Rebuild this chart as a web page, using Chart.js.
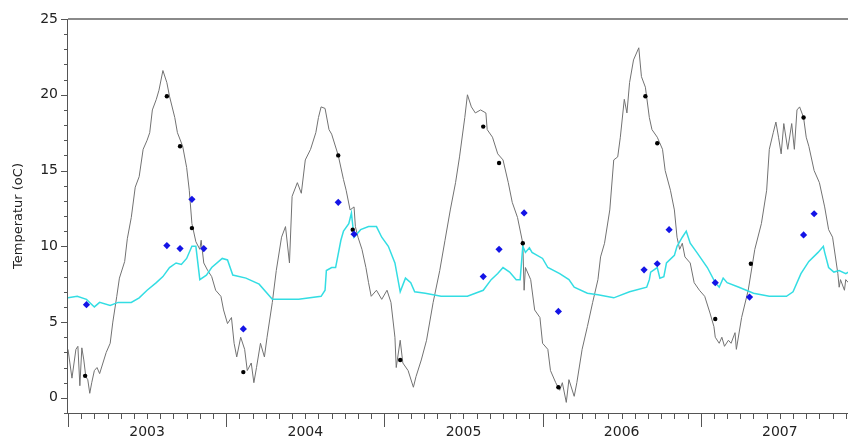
<!DOCTYPE html>
<html>
<head>
<meta charset="utf-8">
<script src="https://cdn.jsdelivr.net/npm/chart.js@4/dist/chart.umd.min.js"></script>
<style>
  html, body { margin: 0; padding: 0; background: #fff; }
  .chart-container { width: 852px; height: 439px; }
</style>
</head>
<body>
<div class="chart-container"><canvas id="chart"></canvas></div>
<script>
// x values are months since Jan 2003
const yearLabels = ["2003", "2004", "2005", "2006", "2007"];

const grayT = [0, 0.3, 0.6, 0.75, 0.9, 1.05, 1.2, 1.35, 1.5, 1.65, 1.8, 2.0, 2.2, 2.4, 2.9, 3.2, 3.4, 3.7, 3.9, 4.3,
  4.5, 4.8, 5.1, 5.4, 5.7, 6.0, 6.2, 6.4, 6.7, 6.9, 7.2, 7.5, 7.7, 8.1, 8.3, 8.7, 9.0, 9.2, 9.4, 9.7,
  10.0, 10.1, 10.3, 10.6, 10.9, 11.2, 11.6, 11.8, 12.1, 12.4, 12.6, 12.8, 13.1, 13.4, 13.6, 13.9, 14.1, 14.3, 14.6, 14.9,
  15.1, 15.5, 15.8, 16.2, 16.5, 16.8, 17.0, 17.4, 17.7, 18.0, 18.4, 18.8, 19.0, 19.2, 19.5, 19.8, 20.0, 20.5, 20.9, 21.1,
  21.4, 21.7, 21.8, 22.0, 22.3, 22.6, 22.8, 23.0, 23.4, 23.8, 24.2, 24.5, 24.8, 24.9, 25.2, 25.4, 25.8, 26.2, 26.4, 26.8,
  27.2, 27.7, 28.2, 28.6, 29.0, 29.4, 29.7, 30.1, 30.3, 30.6, 30.9, 31.3, 31.7, 31.8, 32.2, 32.6, 33.0, 33.4, 33.7, 34.1,
  34.5, 34.6, 34.7, 35.1, 35.4, 35.8, 36.0, 36.4, 36.6, 37.0, 37.3, 37.5, 37.8, 38.0, 38.4, 38.6, 39.0, 39.4, 39.8, 40.2,
  40.4, 40.7, 41.1, 41.4, 41.7, 41.9, 42.2, 42.4, 42.6, 42.9, 43.3, 43.5, 43.8, 44.1, 44.3, 44.7, 45.1, 45.3, 45.7, 46.0,
  46.2, 46.4, 46.6, 46.8, 47.2, 47.5, 47.9, 48.3, 48.7, 49.0, 49.1, 49.4, 49.6, 49.8, 50.1, 50.3, 50.6, 50.7, 51.1, 51.6,
  52.1, 52.6, 53.0, 53.2, 53.5, 53.7, 53.9, 54.1, 54.3, 54.6, 54.9, 55.1, 55.3, 55.5, 55.8, 56.0, 56.2, 56.6, 57.0, 57.4,
  57.7, 58.0, 58.4, 58.5, 58.6, 58.9, 59.0, 59.2];
const grayV = [3.2, 1.3, 3.2, 3.4, 0.8, 3.3, 2.5, 1.4, 1.2, 0.3, 1.0, 1.8, 2.0, 1.6, 3.0, 3.6, 5.0, 6.7, 7.9, 9.0,
  10.5, 11.9, 13.9, 14.6, 16.4, 17.0, 17.5, 19.0, 19.7, 20.3, 21.6, 20.8, 19.9, 18.5, 17.5, 16.6, 15.2, 13.7, 11.5, 10.3,
  9.8, 10.4, 8.9, 8.4, 8.0, 7.1, 6.7, 5.8, 4.9, 5.3, 3.6, 2.7, 4.0, 3.2, 1.8, 2.3, 1.0, 2.0, 3.6, 2.7,
  4.0, 6.3, 8.4, 10.6, 11.3, 8.9, 13.3, 14.2, 13.5, 15.7, 16.4, 17.5, 18.5, 19.2, 19.1, 17.7, 17.4, 16.0, 14.4, 13.7,
  12.4, 12.6, 11.3, 10.6, 9.8, 8.6, 7.6, 6.7, 7.1, 6.5, 7.1, 6.3, 4.0, 2.0, 3.8, 2.3, 1.8, 0.7, 1.4, 2.5,
  3.8, 6.3, 8.4, 10.4, 12.4, 14.2, 15.9, 18.5, 20.0, 19.2, 18.8, 19.0, 18.8, 17.7, 17.2, 16.1, 15.7, 14.2, 12.9, 11.9,
  10.2, 7.1, 8.6, 7.8, 5.8, 5.3, 3.6, 3.2, 1.8, 1.0, 0.5, 1.0, -0.3, 1.2, 0.1, 1.0, 3.2, 4.7, 6.3, 7.8,
  9.3, 10.2, 12.4, 15.7, 15.9, 17.2, 19.7, 18.8, 20.8, 22.3, 23.1, 21.2, 20.5, 18.5, 17.7, 17.2, 16.4, 15.0, 13.7, 12.4,
  10.6, 9.8, 10.2, 9.3, 8.9, 7.6, 7.1, 6.7, 5.6, 4.7, 4.0, 3.6, 4.0, 3.4, 3.8, 3.6, 4.3, 3.2, 5.3, 7.1,
  9.8, 11.5, 13.7, 16.4, 17.5, 18.2, 17.2, 16.1, 18.1, 16.4, 18.1, 16.4, 19.0, 19.2, 18.5, 17.2, 16.6, 15.0, 14.2, 12.6,
  11.1, 10.6, 8.2, 7.3, 7.8, 7.1, 7.8, 7.6];

const cyanT = [0, 0.7, 1.4, 2.0, 2.4, 3.2, 3.8, 4.8, 5.4, 6.0, 6.7, 7.2, 7.7, 8.2, 8.6, 9.0, 9.4, 9.7, 10.0, 10.5,
  10.9, 11.7, 12.1, 12.5, 13.5, 14.5, 15.5, 17.5, 19.2, 19.5, 19.6, 20.0, 20.3, 20.7, 20.9, 21.3, 21.5, 21.7, 22.2, 22.8,
  23.4, 23.8, 24.3, 24.8, 25.2, 25.6, 26.0, 26.3, 27.1, 28.3, 30.3, 30.9, 31.5, 32.1, 32.6, 33.0, 33.5, 34.0, 34.3, 34.5,
  34.7, 35.0, 35.2, 36.0, 36.4, 37.3, 38.0, 38.4, 39.4, 40.2, 41.4, 42.6, 43.9, 44.1, 44.2, 44.7, 44.9, 45.2, 45.4, 46.0,
  46.2, 46.6, 46.9, 47.2, 47.7, 48.5, 49.1, 49.4, 49.7, 50.0, 50.9, 52.0, 53.2, 54.5, 55.0, 55.6, 56.2, 56.9, 57.3, 57.4,
  57.7, 58.1, 58.5, 59.0, 59.2];
const cyanV = [6.6, 6.7, 6.5, 6.0, 6.3, 6.1, 6.3, 6.3, 6.6, 7.1, 7.6, 8.0, 8.6, 8.9, 8.8, 9.2, 10.0, 10.0, 7.8, 8.1,
  8.6, 9.2, 9.1, 8.1, 7.9, 7.5, 6.5, 6.5, 6.7, 7.1, 8.4, 8.6, 8.6, 10.4, 11.0, 11.5, 12.2, 10.6, 11.1, 11.3,
  11.3, 10.6, 10.0, 8.9, 7.0, 7.9, 7.6, 7.0, 6.9, 6.7, 6.7, 6.9, 7.1, 7.8, 8.2, 8.6, 8.3, 7.8, 7.8, 10.0,
  9.6, 9.9, 9.6, 9.2, 8.6, 8.2, 7.8, 7.3, 6.9, 6.8, 6.6, 7.0, 7.3, 7.8, 8.3, 8.6, 7.9, 8.0, 8.9, 9.4,
  10.0, 10.6, 11.0, 10.2, 9.6, 8.6, 7.6, 7.3, 7.9, 7.6, 7.3, 6.9, 6.7, 6.7, 7.0, 8.2, 9.0, 9.6, 10.0, 9.6,
  8.6, 8.3, 8.4, 8.2, 8.3];

const dotT = [1.3, 7.5, 8.5, 9.4, 13.3, 20.5, 21.6, 25.2, 31.5, 32.7, 34.5, 37.2, 43.8, 44.7, 49.1, 51.8, 55.8];
const dotV = [1.45, 19.9, 16.6, 11.2, 1.7, 16.0, 11.1, 2.5, 17.9, 15.5, 10.2, 0.7, 19.9, 16.8, 5.2, 8.85, 18.5];

const diamondT = [1.4, 7.5, 8.5, 9.4, 10.3, 13.3, 20.5, 21.7, 31.5, 32.7, 34.6, 37.2, 43.7, 44.7, 45.6, 49.1, 51.7, 55.8, 56.6];
const diamondV = [6.15, 10.05, 9.85, 13.1, 9.85, 4.55, 12.9, 10.8, 8.0, 9.8, 12.2, 5.7, 8.45, 8.85, 11.1, 7.6, 6.65, 10.75, 12.15];

const toPoints = (xs, ys) => xs.map((x, i) => ({ x: x, y: ys[i] }));

// Axes, ticks and labels
const axesPlugin = {
  id: "axes",
  afterDraw(chart) {
    const { ctx, chartArea: a, scales } = chart;
    const x = scales.x;
    const y = scales.y;
    const seg = (x1, y1, x2, y2) => {
      ctx.beginPath();
      ctx.moveTo(x1, y1);
      ctx.lineTo(x2, y2);
      ctx.stroke();
    };
    ctx.save();
    ctx.strokeStyle = "#8a8a8a";
    ctx.lineWidth = 2;
    seg(a.left, a.top, a.right, a.top);

    ctx.strokeStyle = "#555";
    ctx.lineWidth = 1;
    seg(a.left - 0.5, a.top, a.left - 0.5, a.bottom + 1);
    seg(a.left - 1, a.bottom + 0.5, a.right, a.bottom + 0.5);

    // y ticks
    for (let v = -1; v <= 25; v++) {
      const py = Math.round(y.getPixelForValue(v)) + 0.5;
      const len = v % 5 === 0 ? 6 : 3;
      seg(a.left - 1 - len, py, a.left - 1, py);
    }
    ctx.fillStyle = "#222";
    ctx.font = "14px 'DejaVu Sans', sans-serif";
    ctx.textAlign = "right";
    ctx.textBaseline = "middle";
    for (let v = 0; v <= 25; v += 5) {
      ctx.fillText(String(v), a.left - 10, y.getPixelForValue(v));
    }

    // x ticks, one per month
    for (let m = 0; m <= 60; m++) {
      const px = Math.round(x.getPixelForValue(m)) + 0.5;
      if (px > a.right) break;
      const len = m % 12 === 0 ? 14 : 6;
      seg(px, a.bottom, px, a.bottom + len);
    }
    ctx.textAlign = "center";
    yearLabels.forEach((label, i) => {
      ctx.fillText(label, x.getPixelForValue(i * 12 + 6), a.bottom + 19);
    });

    // y title
    ctx.translate(19, 216);
    ctx.rotate(-Math.PI / 2);
    ctx.font = "13px 'DejaVu Sans', sans-serif";
    ctx.fillText("Temperatur (oC)", 0, 0);
    ctx.restore();
  },
};

const chart = new Chart(document.querySelector("#chart").getContext("2d"), {
  type: "scatter",
  data: {
    datasets: [
      {
        label: "Temperatur",
        data: toPoints(grayT, grayV),
        showLine: true,
        borderColor: "#727272",
        borderWidth: 1,
        pointRadius: 0,
        order: 4,
      },
      {
        label: "Bund",
        data: toPoints(cyanT, cyanV),
        showLine: true,
        borderColor: "#33dde3",
        borderWidth: 1.5,
        pointRadius: 0,
        order: 3,
      },
      {
        label: "Overflade",
        data: toPoints(dotT, dotV),
        pointStyle: "circle",
        pointRadius: 2.2,
        backgroundColor: "#000",
        borderWidth: 0,
        order: 2,
      },
      {
        label: "Bund prøver",
        data: toPoints(diamondT, diamondV),
        pointStyle: "rectRot",
        pointRadius: 3.6,
        backgroundColor: "#1414e6",
        borderWidth: 0,
        order: 1,
      },
    ],
  },
  options: {
    responsive: true,
    maintainAspectRatio: false,
    animation: false,
    layout: { padding: { left: 68, right: 0, top: 19, bottom: 26 } },
    plugins: { legend: { display: false }, tooltip: { enabled: false } },
    scales: {
      x: { type: "linear", display: false, min: 0, max: 59.17 },
      y: { type: "linear", display: false, min: -1, max: 25 },
    },
  },
  plugins: [axesPlugin],
});
</script>
</body>
</html>
